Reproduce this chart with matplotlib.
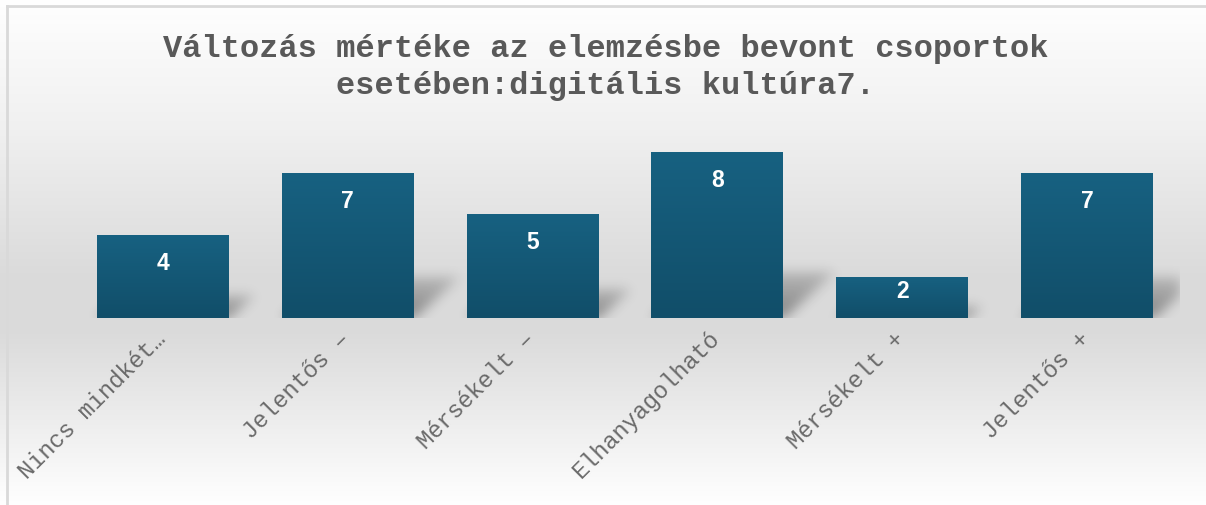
import numpy as np
import matplotlib
matplotlib.use("Agg")
import matplotlib.pyplot as plt
from matplotlib.lines import Line2D
from matplotlib.transforms import ScaledTranslation

categories = ["Nincs mindkét…", "Jelentős –", "Mérsékelt –", "Elhanyagolható",
              "Mérsékelt +", "Jelentős +"]
values = [4, 7, 5, 8, 2, 7]
title = "Változás mértéke az elemzésbe bevont csoportok\nesetében:digitális kultúra7."

W, H, DPI = 1206, 506, 100
TEXT_GREY = "#595959"
BAR_TOP = np.array([23, 97, 129]) / 255
BAR_BOTTOM = np.array([17, 78, 105]) / 255


def gauss_blur(a, sigma):
    r = int(3 * sigma)
    k = np.exp(-0.5 * (np.arange(-r, r + 1) / sigma) ** 2)
    k /= k.sum()
    a = np.apply_along_axis(lambda row: np.convolve(row, k, mode="same"), 1, a)
    a = np.apply_along_axis(lambda col: np.convolve(col, k, mode="same"), 0, a)
    return a


fig = plt.figure(figsize=(W / DPI, H / DPI), dpi=DPI)

# chart area background: light at top, grey band behind the bars, light again at bottom
bg = fig.add_axes([0, 0, 1, 1], zorder=-10)
rows = np.arange(H)
shade = np.interp(rows, [0, 7, 130, 280, 330, 506], [255, 254, 240, 218, 218, 255]) / 255
bg.imshow(np.repeat(shade[:, None], 3, axis=1)[:, None, :].repeat(4, axis=1),
          aspect="auto", extent=(0, 1, 0, 1), origin="upper")
bg.set_axis_off()

# frame lines (left and top)
fig.add_artist(Line2D([6.5 / W, 6.5 / W], [0, 1 - 7 / H], color="#d9d9d9", lw=2))
fig.add_artist(Line2D([6.5 / W, 1], [1 - 7 / H, 1 - 7 / H], color="#d9d9d9", lw=2))

fig.text(606 / W, 1 - 34 / H, title, ha="center", va="top", family="Liberation Mono",
         fontweight="bold", fontsize=23, color=TEXT_GREY, linespacing=1.3)

# plot area
left_px, right_px, base_px, top_px = 70.6, 1179.4, 319, 143
ax = fig.add_axes([left_px / W, 1 - base_px / H, (right_px - left_px) / W,
                   (base_px - top_px) / H])
ax.patch.set_alpha(0)
ymax = 8.5
x = np.arange(len(values))
width = 0.714
xlim = (-0.5, len(values) - 0.5)

ppx = (right_px - left_px) / (xlim[1] - xlim[0])
ppy = (base_px - top_px) / ymax

# soft perspective shadow behind each bar, leaning to the right
nx, ny = int(right_px - left_px), int(base_px - top_px)
gx = np.arange(nx)[None, :] + 0.5
gy = np.arange(ny)[:, None] + 0.5
shadow = np.zeros((ny, nx))
for xi, v in zip(x, values):
    l_px = (xi - width / 2 - xlim[0]) * ppx
    r_px = (xi + width / 2 - xlim[0]) * ppx
    sh = 0.28 * v * ppy
    inside = (gy <= sh) & (gx >= l_px + 1.1 * gy) & (gx <= r_px + 1.1 * gy)
    shadow += inside * (1 - 0.6 * gy / max(sh, 1))
shadow = gauss_blur(shadow, 6) * 0.4
rgba = np.zeros((ny, nx, 4))
rgba[..., 3] = np.clip(shadow, 0, 1)
ax.imshow(rgba, origin="lower", extent=(xlim[0], xlim[1], 0, ymax), aspect="auto",
          zorder=1, interpolation="bilinear")

bars = ax.bar(x, values, width=width, color=BAR_BOTTOM, zorder=2)
grad = np.linspace(0, 1, 100)[:, None, None] * (BAR_TOP - BAR_BOTTOM) + BAR_BOTTOM
for b in bars:
    im = ax.imshow(grad, origin="lower", aspect="auto", zorder=2.5,
                   extent=(b.get_x(), b.get_x() + b.get_width(), 0, b.get_height()))
    im.set_clip_path(b)

for xi, v in zip(x, values):
    off = min(26, v * ppy / 2 - 8)
    ax.annotate(str(v), (xi, v), xytext=(0, -off - 1), textcoords="offset pixels",
                ha="center", va="center", color="white", fontweight="bold",
                family="Liberation Sans", fontsize=16.5, zorder=4)

ax.set_xlim(*xlim)
ax.set_ylim(0, ymax)
ax.set_xticks(x)
ax.set_xticklabels(categories, rotation=45, ha="right", va="top",
                   family="Liberation Mono", fontsize=17, color="#6a6a6a")
ax.tick_params(axis="x", length=0, pad=6)
shift = ScaledTranslation(7 / DPI, 0, fig.dpi_scale_trans)
for lab in ax.get_xticklabels():
    lab.set_transform(lab.get_transform() + shift)
ax.set_yticks([])
for s in ax.spines.values():
    s.set_visible(False)

fig.savefig("out.png", dpi=DPI)
